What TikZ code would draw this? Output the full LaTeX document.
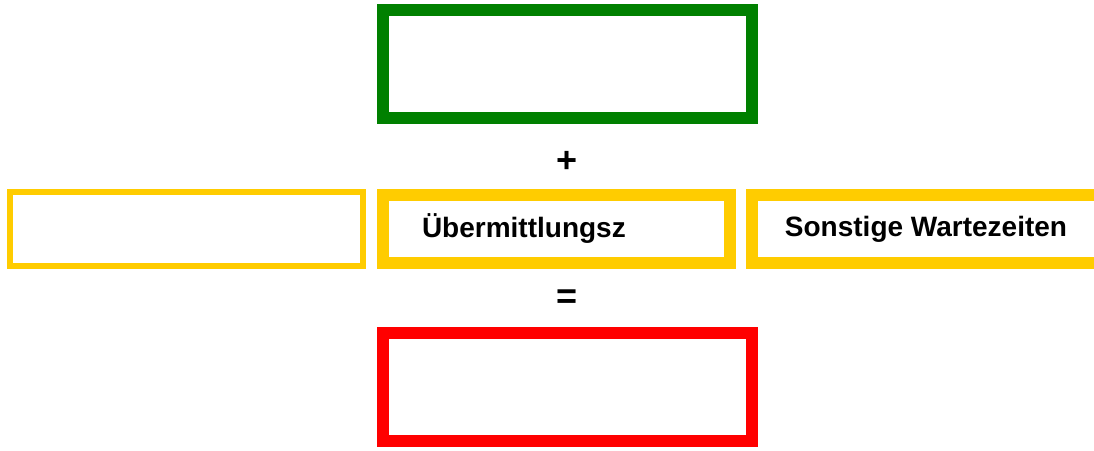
\documentclass[tikz,border=0pt]{standalone}
\usepackage{fontspec}
\setmainfont{Liberation Sans}
\usetikzlibrary{positioning}

\definecolor{boxgreen}{HTML}{008000}
\definecolor{boxyellow}{HTML}{FFCC00}
\definecolor{boxred}{HTML}{FF0000}

\tikzset{
  bigbox/.style={draw, minimum width=276.75pt, minimum height=81pt, line width=9pt, inner sep=0pt},
  timebox/.style={draw=boxyellow, minimum height=51pt, line width=9pt, inner sep=0pt,
    font=\fontsize{21}{25}\selectfont\bfseries},
  opsign/.style={font=\fontsize{27}{30}\selectfont\bfseries, inner sep=0pt}
}

\begin{document}
\begin{tikzpicture}[x=0.75pt, y=-0.75pt]
  \useasboundingbox (0, 0) rectangle (1094, 450);

  % result on top
  \node[bigbox, draw=boxgreen] (total) at (567.5, 64) {};
  \node[opsign] (plus) at (567, 162) {+};

  % parts
  \node[timebox, line width=4.5pt, minimum width=264.75pt, minimum height=55.5pt] (first) at (186.5, 229) {};
  \node[timebox, minimum width=260.25pt, text width=201.75pt, inner xsep=29.25pt, align=left] (transfer) at (556.5, 229) {Übermittlungsz};
  \node[timebox, minimum width=261pt] (waiting) at (926, 229) {Sonstige Wartezeiten};

  % sum
  \node[opsign] (equals) at (567, 299) {=};
  \node[bigbox, draw=boxred] (sum) at (567.5, 387) {};
\end{tikzpicture}
\end{document}
